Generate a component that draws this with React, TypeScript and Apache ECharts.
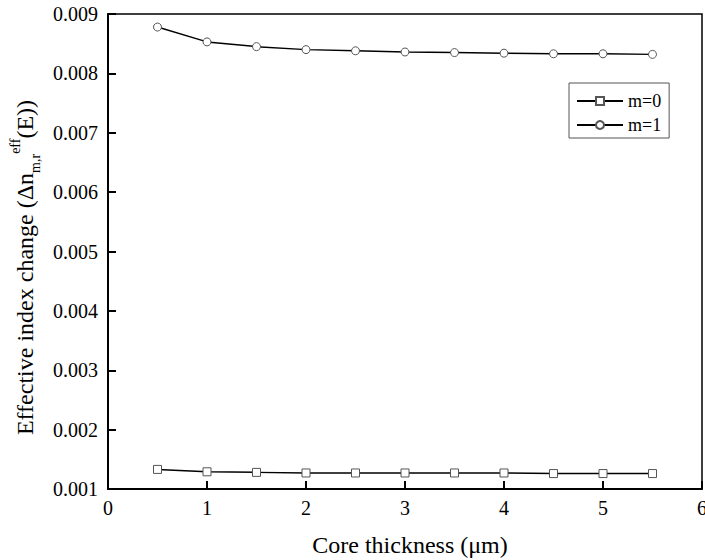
import React, { useEffect, useRef } from "react";
import * as echarts from "echarts";

const xValues = [0.5, 1, 1.5, 2, 2.5, 3, 3.5, 4, 4.5, 5, 5.5];
const m0Values = [0.00133, 0.00129, 0.00128, 0.00127, 0.00127, 0.00127, 0.00127, 0.00127, 0.00126, 0.00126, 0.00126];
const m1Values = [0.00878, 0.00853, 0.00845, 0.0084, 0.00838, 0.00836, 0.00835, 0.00834, 0.00833, 0.00833, 0.00832];
const seriesNames = ["m=0", "m=1"];

const FONT = "Liberation Serif";

export default function App() {
  const ref = useRef<HTMLDivElement>(null);
  useEffect(() => {
    if (!ref.current) return;
    const chart = echarts.init(ref.current, null, { renderer: "svg" });
    const mk = (vals: number[]) => xValues.map((x, i) => [x, vals[i]]);
    chart.setOption({
      animation: false,
      backgroundColor: "#fff",
      textStyle: { fontFamily: FONT, color: "#000" },
      grid: {
        left: 108, width: 594, top: 14, height: 475,
        containLabel: false, outerBoundsMode: "none",
        show: true, borderColor: "#000", borderWidth: 1.5,
      },
      legend: {
        orient: "vertical",
        left: 569, top: 83,
        itemWidth: 46, itemHeight: 10, itemGap: 6,
        padding: [9, 8, 4, 7],
        borderColor: "#555", borderWidth: 1,
        textStyle: { fontFamily: FONT, fontSize: 18, color: "#000" },
        data: seriesNames,
      },
      xAxis: {
        type: "value", min: 0, max: 6, interval: 1,
        name: "Core thickness (μm)",
        nameLocation: "middle", nameGap: 44,
        nameTextStyle: { fontFamily: FONT, fontSize: 24, color: "#000", padding: [0, 0, 0, 10] },
        axisLine: { show: true, onZero: false, lineStyle: { color: "#000", width: 2 } },
        axisTick: { show: true, inside: true, length: 8, lineStyle: { color: "#000", width: 2 } },
        axisLabel: { fontFamily: FONT, fontSize: 20, color: "#000", margin: 9 },
        splitLine: { show: false },
      },
      yAxis: {
        type: "value", min: 0.001, max: 0.009, interval: 0.001,
        name: "{a|Effective index change (Δn}{sub|m,r}{sup|eff}{a|(E))}",
        nameLocation: "middle", nameGap: 66, nameRotate: 90,
        nameTextStyle: {
          fontFamily: FONT, fontSize: 24, color: "#000",
          padding: [0, 32, 0, 0],
          rich: {
            a: { fontFamily: FONT, fontSize: 24, lineHeight: 34, color: "#000" },
            sub: { fontFamily: FONT, fontSize: 14, lineHeight: 14, verticalAlign: "bottom", color: "#000" },
            sup: { fontFamily: FONT, fontSize: 14, lineHeight: 14, verticalAlign: "top", color: "#000" },
          },
        },
        axisLine: { show: true, onZero: false, lineStyle: { color: "#000", width: 2 } },
        axisTick: { show: true, inside: true, length: 8, lineStyle: { color: "#000", width: 2 } },
        axisLabel: {
          fontFamily: FONT, fontSize: 20, color: "#000", margin: 10,
          formatter: (v: number) => v.toFixed(3),
        },
        splitLine: { show: false },
      },
      series: [
        {
          name: seriesNames[0], type: "line", data: mk(m0Values),
          symbol: "rect", symbolSize: 8,
          lineStyle: { color: "#000", width: 1.5 },
          itemStyle: { color: "#fff", borderColor: "#555", borderWidth: 1 },
        },
        {
          name: seriesNames[1], type: "line", data: mk(m1Values),
          symbol: "circle", symbolSize: 8,
          lineStyle: { color: "#000", width: 1.5 },
          itemStyle: { color: "#fff", borderColor: "#555", borderWidth: 1 },
        },
      ],
    });
    return () => chart.dispose();
  }, []);
  return <div ref={ref} style={{ width: 705, height: 560, position: "absolute", left: 0, top: 0 }} />;
}
